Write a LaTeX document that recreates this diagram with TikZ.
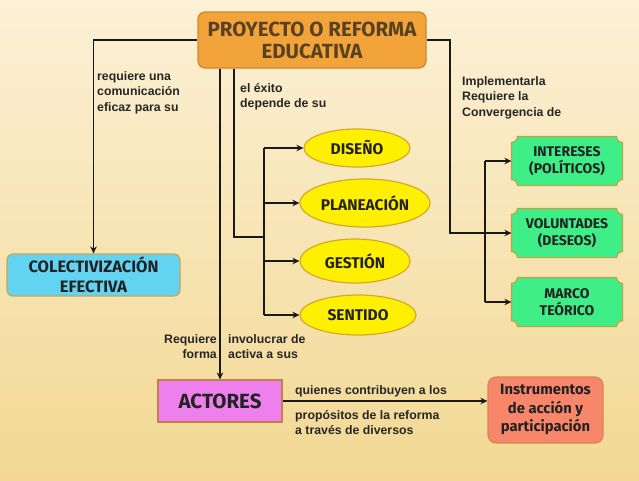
\documentclass[tikz,border=0pt]{standalone}
\usepackage{fontspec}
\setmainfont{Liberation Sans}
\newfontfamily\boxfont{Fira Sans}
\usetikzlibrary{shapes.geometric,calc,arrows.meta}
\definecolor{bgtop}{HTML}{FCF1D6}
\definecolor{bgbot}{HTML}{F2D893}
\definecolor{orfill}{HTML}{F2A33A}
\definecolor{ordraw}{HTML}{C9892E}
\definecolor{blfill}{HTML}{62D3F0}
\definecolor{bldraw}{HTML}{C6A45A}
\definecolor{yefill}{HTML}{FFF000}
\definecolor{yedraw}{HTML}{D4A92A}
\definecolor{grfill}{HTML}{40EE88}
\definecolor{grdraw}{HTML}{C9A040}
\definecolor{vifill}{HTML}{EE80EE}
\definecolor{vidraw}{HTML}{C08050}
\definecolor{safill}{HTML}{F8866A}
\definecolor{sadraw}{HTML}{D9874A}
\definecolor{toptext}{HTML}{5A4122}
\definecolor{boxtext}{HTML}{222222}
\newcommand\plaquebox[2]{%
  \draw[#2] let \p1=(#1.north west), \p2=(#1.south east), \n1={6pt}, \n2={3.3pt} in
    (\x1+\n1,\y1) -- (\x2-\n1,\y1)
    .. controls (\x2-\n1,\y1-\n2) and (\x2-\n2,\y1-\n1) .. (\x2,\y1-\n1)
    -- (\x2,\y2+\n1)
    .. controls (\x2-\n2,\y2+\n1) and (\x2-\n1,\y2+\n2) .. (\x2-\n1,\y2)
    -- (\x1+\n1,\y2)
    .. controls (\x1+\n1,\y2+\n2) and (\x1+\n2,\y2+\n1) .. (\x1,\y2+\n1)
    -- (\x1,\y1-\n1)
    .. controls (\x1+\n2,\y1-\n1) and (\x1+\n1,\y1-\n2) .. cycle;}
\begin{document}
\begin{tikzpicture}[x=1pt,y=-1pt,
  lbl/.style={font=\bfseries\fontsize{12.3}{15.5}\selectfont, align=left, anchor=north west, inner sep=0pt, text=black!85},
  conn/.style={line width=1.8pt, draw=black!90},
  arr/.style={conn, -{Stealth[length=7pt,width=6.5pt]}},
  bx/.style={text=boxtext, align=center, inner sep=0pt, line width=1.2pt},
  topbox/.style={bx, font=\boxfont\bfseries\fontsize{20.5}{22}\selectfont, text=toptext, fill=orfill, draw=ordraw, rounded corners=7pt, minimum width=228pt, minimum height=56pt},
  colbox/.style={bx, font=\boxfont\bfseries\fontsize{16.5}{20}\selectfont, fill=blfill, draw=bldraw, rounded corners=6pt, minimum width=173pt, minimum height=42pt},
  ell/.style={bx, ellipse, fill=yefill, draw=yedraw, font=\boxfont\bfseries\fontsize{15.5}{17}\selectfont},
  grbox/.style={bx, font=\boxfont\bfseries\fontsize{14}{17}\selectfont, minimum width=110pt, minimum height=48pt},
  actbox/.style={bx, font=\boxfont\bfseries\fontsize{20.5}{22}\selectfont, fill=vifill, draw=vidraw, minimum width=124pt, minimum height=42pt},
  insbox/.style={bx, fill=safill, draw=sadraw, rounded corners=8pt, minimum width=115pt, minimum height=66pt, font=\boxfont\bfseries\fontsize{14.8}{18.5}\selectfont}
]
\useasboundingbox (0,0) rectangle (639,480);
\shade[top color=bgtop, bottom color=bgbot] (0,0) rectangle (639,480);

% nodes
\node[topbox] (top) at (312,40) {PROYECTO O REFORMA\\EDUCATIVA};
\node[colbox] (col) at (93.5,275) {COLECTIVIZACIÓN\\EFECTIVA};
\node[ell, minimum width=106pt, minimum height=38pt] (dis) at (357,148) {DISEÑO};
\node[ell, minimum width=130pt, minimum height=48pt] (pla) at (365,203) {PLANEACIÓN};
\node[ell, minimum width=110pt, minimum height=44pt] (ges) at (355,261) {GESTIÓN};
\node[ell, minimum width=116pt, minimum height=40pt] (sen) at (358,315) {SENTIDO};
\node[grbox] (int) at (567,161) {};
\node[grbox] (vol) at (567,233) {};
\node[grbox] (mar) at (567,302) {};
\node[actbox] (act) at (220,401) {ACTORES};
\node[insbox] (ins) at (545.5,410) {Instrumentos\\de acción y\\participación};

% plaque outlines for green boxes
\plaquebox{int}{fill=grfill, draw=grdraw, line width=1.2pt}
\plaquebox{vol}{fill=grfill, draw=grdraw, line width=1.2pt}
\plaquebox{mar}{fill=grfill, draw=grdraw, line width=1.2pt}
\node[grbox] (intt) at (int) {INTERESES\\(POLÍTICOS)};
\node[grbox] (volt) at (vol) {VOLUNTADES\\(DESEOS)};
\node[grbox] (mart) at (mar) {MARCO\\TEÓRICO};

% coordinates
\coordinate (lx) at (234,0);
\coordinate (br) at (264,237);
\coordinate (rx) at (450,0);
\coordinate (rb) at (485,0);

% connectors
\draw[arr] (top.west) -| (col.north);
\draw[arr] (top.south -| act.north) -- (act.north);
\draw[conn] (top.south -| lx) |- (br);
\draw[conn] (dis.west -| br) -- (sen.west -| br);
\foreach \n in {dis,pla,ges,sen} \draw[arr] (\n.west -| br) -- (\n.west);
\draw[conn] (top.east) -| (vol.west -| rx) -- (vol.west -| rb);
\draw[conn] (int.west -| rb) -- (mar.west -| rb);
\foreach \n in {int,vol,mar} \draw[arr] (\n.west -| rb) -- (\n.west);
\draw[arr] (act.east) -- (ins.west |- act.east);

% labels
\node[lbl] (l1) at (97,71) {requiere una\\comunicación\\eficaz para su};
\node[lbl] (l2) at (240,83) {el éxito\\depende de su};
\node[lbl] (l3) at (462,76) {Implementarla\\Requiere la\\Convergencia de};
\node[lbl, anchor=north east, align=right] (l4) at (217,334) {Requiere\\forma\hspace{3pt}};
\node[lbl] (l5) at (228,334) {involucrar de\\activa a sus};
\node[lbl] (l6) at (295,385) {quienes contribuyen a los};
\node[lbl] (l7) at (295,410) {propósitos de la reforma\\a través de diversos};
\end{tikzpicture}
\end{document}
